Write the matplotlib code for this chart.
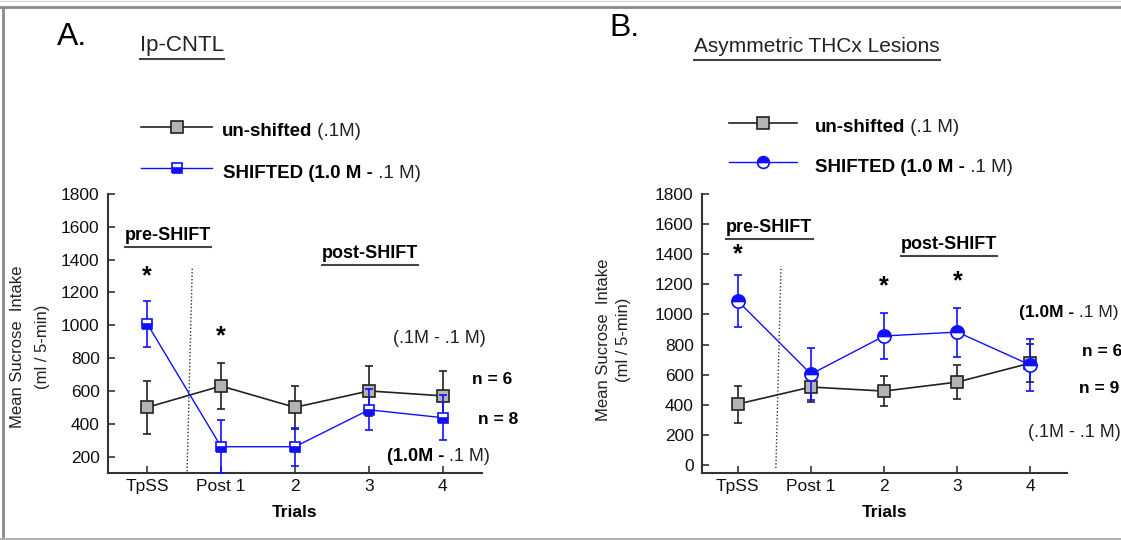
import matplotlib
matplotlib.use('Agg')
import matplotlib.pyplot as plt
from matplotlib.lines import Line2D

plt.rcParams['font.family'] = ['Liberation Sans', 'DejaVu Sans']

W, H = 1121, 540

trials = ['TpSS', 'Post 1', '2', '3', '4']

# panel A: Ip-CNTL
a_unshifted = [500, 630, 500, 600, 570]
a_unshifted_se = [160, 140, 130, 150, 150]
a_shifted = [1010, 260, 260, 485, 437]
a_shifted_se = [140, 160, 115, 125, 137]

# panel B: asymmetric THCx lesions
b_unshifted = [405, 518, 491, 551, 677]
b_unshifted_se = [123, 100, 100, 110, 125]
b_shifted = [1089, 604, 857, 883, 664]
b_shifted_se = [173, 170, 152, 163, 173]

BLUE = '#1010ff'
DARK = '#222222'
GREY = '#b4b4b4'


def fx(px):
    return px / W


def fy(py):
    return 1 - py / H


fig = plt.figure(figsize=(W / 100, H / 100), dpi=100)


def make_axes(left, right, ylim, yticks, xlim):
    ax = fig.add_axes([fx(left), fy(473), (right - left) / W, (473 - 194) / H])
    ax.set_xlim(*xlim)
    ax.set_ylim(*ylim)
    ax.set_yticks(yticks)
    ax.set_xticks(range(len(trials)))
    ax.set_xticklabels(trials)
    for s in ['top', 'right']:
        ax.spines[s].set_visible(False)
    for s in ['left', 'bottom']:
        ax.spines[s].set_linewidth(1.5)
        ax.spines[s].set_color('#333333')
    ax.tick_params(direction='in', length=5, width=1.2, labelsize=12.5,
                   colors='#333333', labelcolor='#111111')
    ax.tick_params(axis='y', pad=6)
    ax.tick_params(axis='x', pad=4)
    ax.set_xlabel('Trials', fontsize=12.5, fontweight='bold', labelpad=8)
    return ax


def plot_unshifted(ax, y, err):
    ax.errorbar(range(len(y)), y, yerr=err, color=DARK, lw=1.2, elinewidth=1.2,
                capsize=3, capthick=1.2, marker='s', ms=8.5, mfc=GREY, mec=DARK,
                mew=1.2, zorder=3)


def plot_shifted(ax, y, err, marker, ms, fill):
    ax.errorbar(range(len(y)), y, yerr=err, color=BLUE, lw=1.0, elinewidth=1.2,
                capsize=3, capthick=1.2, marker=marker, ms=ms, mfc=BLUE,
                mfcalt='white', fillstyle=fill, mec=BLUE, mew=1.2, zorder=4)


def mixed(ax, x, y, bold, normal, size, ha='left', coords=None):
    t = ax.text(x, y, bold, fontsize=size, fontweight='bold', va='center', ha=ha,
                transform=coords if coords is not None else ax.transData)
    ax.annotate(normal, xy=(1, 0), xycoords=t, va='bottom', ha='left',
                fontsize=size, color='#222222')
    return t


def underline(t, pad=3):
    fig.canvas.draw()
    bb = t.get_window_extent()
    fig.add_artist(Line2D([fx(bb.x0), fx(bb.x1)], [(bb.y0 - pad) / H] * 2,
                          transform=fig.transFigure, color='#444444', lw=1.5))


def legend_entry(x0, x1, y, color, marker, mfc, ms, fill='full', lw=1.2):
    fig.add_artist(Line2D([fx(x0), fx(x1)], [fy(y)] * 2, transform=fig.transFigure,
                          color=color, lw=lw))
    fig.add_artist(Line2D([fx((x0 + x1) / 2)], [fy(y)], transform=fig.transFigure,
                          marker=marker, ms=ms, mfc=mfc, mfcalt='white', fillstyle=fill,
                          mec=color, mew=1.2, ls='none'))


# ---------------- panel A ----------------
axA = make_axes(108, 482, (100, 1800), range(200, 1801, 200), (-0.53, 4.53))
plot_unshifted(axA, a_unshifted, a_unshifted_se)
plot_shifted(axA, a_shifted, a_shifted_se, 's', 7.5, 'bottom')
axA.plot([0.54, 0.61], [110, 1350], ls=(0, (1, 1.5)), color='#333333', lw=1, zorder=2)

preA = axA.text(-0.3, 1550, 'pre-SHIFT', fontsize=13, fontweight='bold', va='center')
postA = axA.text(2.36, 1440, 'post-SHIFT', fontsize=13, fontweight='bold', va='center')
axA.text(0, 1300, '*', fontsize=18, fontweight='bold', ha='center', va='center')
axA.text(1, 935, '*', fontsize=18, fontweight='bold', ha='center', va='center')
axA.text(3.32, 917, '(.1M - .1 M)', fontsize=13, va='center', color='#222222')
axA.text(4.4, 668, 'n = 6', fontsize=12.5, fontweight='bold', va='center')
axA.text(4.47, 425, 'n = 8', fontsize=12.5, fontweight='bold', va='center')
mixed(axA, 3.24, 200, '(1.0M -', ' .1 M)', 13)

fig.text(fx(18), fy(347), 'Mean Sucrose  Intake', rotation=90, fontsize=12,
         ha='center', va='center', color='#222222')
fig.text(fx(43), fy(347), '(ml / 5-min)', rotation=90, fontsize=12,
         ha='center', va='center', color='#222222')

fig.text(fx(57), fy(37), 'A.', fontsize=23, va='center')
titleA = fig.text(fx(140), fy(45), 'Ip-CNTL', fontsize=16, va='center', color='#222222')

legend_entry(141, 212, 127, DARK, 's', GREY, 8)
legend_entry(141, 212, 168, BLUE, 's', BLUE, 7, 'bottom', lw=1.0)
mixed(axA, fx(222), fy(132), 'un-shifted', ' (.1M)', 13.5, coords=fig.transFigure)
mixed(axA, fx(223), fy(173), 'SHIFTED (1.0 M -', ' .1 M)', 13.5, coords=fig.transFigure)

# ---------------- panel B ----------------
axB = make_axes(702, 1067, (-53, 1800), range(0, 1801, 200), (-0.49, 4.5))
plot_unshifted(axB, b_unshifted, b_unshifted_se)
plot_shifted(axB, b_shifted, b_shifted_se, 'o', 9.5, 'top')
axB.plot([0.52, 0.59], [-20, 1320], ls=(0, (1, 1.5)), color='#333333', lw=1, zorder=2)

preB = axB.text(-0.16, 1580, 'pre-SHIFT', fontsize=13, fontweight='bold', va='center')
postB = axB.text(2.23, 1467, 'post-SHIFT', fontsize=13, fontweight='bold', va='center')
axB.text(0, 1400, '*', fontsize=18, fontweight='bold', ha='center', va='center')
axB.text(2, 1190, '*', fontsize=18, fontweight='bold', ha='center', va='center')
axB.text(3, 1220, '*', fontsize=18, fontweight='bold', ha='center', va='center')
mixed(axB, 3.84, 1016, '(1.0M -', ' .1 M)', 12.5)
axB.text(4.7, 757, 'n = 6', fontsize=12.5, fontweight='bold', va='center')
axB.text(4.67, 505, 'n = 9', fontsize=12.5, fontweight='bold', va='center')
axB.text(3.97, 219, '(.1M - .1 M)', fontsize=13, va='center', color='#222222')

fig.text(fx(604), fy(340), 'Mean Sucrose  Intake', rotation=90, fontsize=12,
         ha='center', va='center', color='#222222')
fig.text(fx(624), fy(340), '(ml / 5-min)', rotation=90, fontsize=12,
         ha='center', va='center', color='#222222')

fig.text(fx(609), fy(28), 'B.', fontsize=23, va='center')
titleB = fig.text(fx(694), fy(47), 'Asymmetric THCx Lesions', fontsize=15, va='center',
                  color='#222222')

legend_entry(729, 797, 123, DARK, 's', GREY, 8)
legend_entry(729, 797, 162, BLUE, 'o', BLUE, 8.5, 'top', lw=1.0)
mixed(axB, fx(815), fy(127), 'un-shifted', ' (.1 M)', 13.5, coords=fig.transFigure)
mixed(axB, fx(815), fy(167), 'SHIFTED (1.0 M -', ' .1 M)', 13.5, coords=fig.transFigure)

# frame around the panels
fig.add_artist(Line2D([0, 1], [fy(7)] * 2, transform=fig.transFigure, color='#8a8a8a', lw=2))
fig.add_artist(Line2D([fx(3)] * 2, [fy(7), fy(539)], transform=fig.transFigure,
                      color='#8a8a8a', lw=2))
fig.add_artist(Line2D([0, 1], [fy(539)] * 2, transform=fig.transFigure, color='#b0b0b0', lw=1.5))
fig.add_artist(Line2D([0, 1], [fy(0.5)] * 2, transform=fig.transFigure, color='#d8d8d8', lw=1))

for t in [preA, postA, preB, postB, titleA, titleB]:
    underline(t)

fig.savefig('out.png', dpi=100)
